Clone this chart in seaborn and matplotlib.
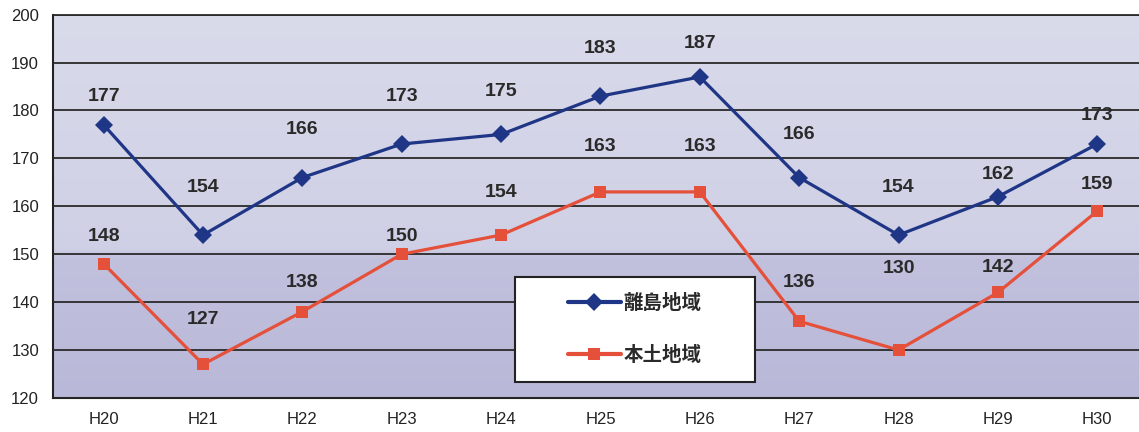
import numpy as np
import pandas as pd
import matplotlib
matplotlib.use("Agg")
import matplotlib.pyplot as plt
from matplotlib.colors import LinearSegmentedColormap
from matplotlib.patches import Rectangle
import seaborn as sns

years = ["H20", "H21", "H22", "H23", "H24", "H25", "H26", "H27", "H28", "H29", "H30"]
ritou = [177, 154, 166, 173, 175, 183, 187, 166, 154, 162, 173]
hondo = [148, 127, 138, 150, 154, 163, 163, 136, 130, 142, 159]
series_names = ["離島地域", "本土地域"]

# label offsets above each point (in y units)
ritou_off = [6, 10, 10, 10, 9, 10, 7, 9, 10, 4.6, 6]
hondo_off = [5.6, 9.3, 6, 3.6, 8.8, 9.4, 9.4, 8, 17, 5.2, 5.5]

sns.set_style("white")
plt.rcParams["font.family"] = ["Liberation Sans", "Noto Sans CJK JP", "DejaVu Sans"]

df = pd.DataFrame({
    "x": list(range(len(years))) * 2,
    "value": ritou + hondo,
    "series": [series_names[0]] * len(years) + [series_names[1]] * len(years),
})

XMIN, XMAX = -0.51, 10.42

fig = plt.figure(figsize=(11.39, 4.32), dpi=100)
ax = fig.add_axes([0.0465, 0.079, 0.9535, 0.887])

# background: lighter above 150, more lavender below
cmap = LinearSegmentedColormap.from_list(
    "bg", [(0, "#b9b8d8"), (0.36, "#c1c0dd"), (0.39, "#cfd0e5"), (1, "#d9daea")])
grad = np.linspace(0, 1, 256).reshape(-1, 1)
ax.imshow(grad, extent=[XMIN, XMAX, 120, 200], origin="lower", aspect="auto",
          cmap=cmap, zorder=0)

palette = {series_names[0]: "#1f3586", series_names[1]: "#e5503a"}
sns.lineplot(data=df, x="x", y="value", hue="series", style="series",
             markers={series_names[0]: "D", series_names[1]: "s"}, dashes=False,
             palette=palette, linewidth=2.3, markersize=9, markeredgewidth=0,
             ax=ax, zorder=3)

for i in range(len(years)):
    ax.text(i, ritou[i] + ritou_off[i], str(ritou[i]), ha="center", va="center",
            fontsize=14, fontweight="bold", color="#2a2a2a", zorder=4)
    ax.text(i, hondo[i] + hondo_off[i], str(hondo[i]), ha="center", va="center",
            fontsize=14, fontweight="bold", color="#2a2a2a", zorder=4)

ax.set_xlim(XMIN, XMAX)
ax.set_ylim(120, 200)
ax.set_yticks(range(120, 201, 10))
ax.set_xticks(range(len(years)))
ax.set_xticklabels(years)
ax.set_xticks(np.arange(0.5, 10.5, 1), minor=True)
ax.tick_params(axis="x", which="major", length=0, labelsize=12, pad=10, colors="#222222")
ax.tick_params(axis="x", which="minor", direction="in", length=5, width=1.2, color="#333333")
ax.tick_params(axis="y", length=0, labelsize=12, pad=10, colors="#222222")
ax.set_xlabel("")
ax.set_ylabel("")
ax.grid(axis="y", color="#2a2a2a", linewidth=1.3, zorder=1)
ax.set_axisbelow(False)
for side in ["left", "bottom"]:
    ax.spines[side].set_color("#222222")
    ax.spines[side].set_linewidth(1.5)
ax.spines["right"].set_visible(False)
ax.spines["top"].set_color("#2a2a2a")
ax.spines["top"].set_linewidth(1.3)

# legend box drawn separately so the padding matches the original
box = Rectangle((0.4252, 0.042), 0.2211, 0.274, transform=ax.transAxes,
                facecolor="white", edgecolor="#222222", linewidth=1.5, zorder=5)
ax.add_patch(box)
leg = ax.legend(loc="center", bbox_to_anchor=(0.5357, 0.179), frameon=False,
                prop={"family": ["Noto Sans CJK JP"], "size": 14, "weight": "bold"},
                labelspacing=1.7, handlelength=2.7, handletextpad=0.15,
                borderaxespad=0, borderpad=0)
leg.set_zorder(6)
for t in leg.get_texts():
    t.set_color("#2a2a2a")
for h in leg.get_lines():
    h.set_linewidth(3)

fig.savefig("out.png", dpi=100)
